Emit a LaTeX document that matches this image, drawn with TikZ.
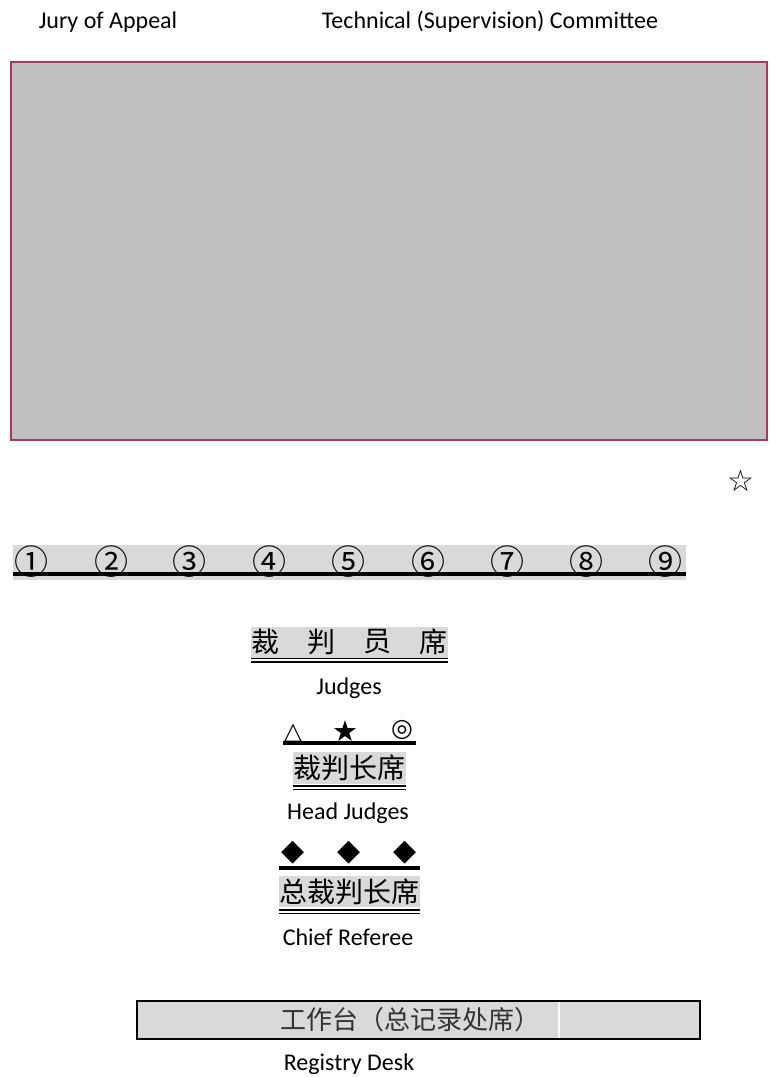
\documentclass[tikz,border=0pt]{standalone}
\usepackage{fontspec}
\setmainfont{Carlito}
\newfontfamily\cjk{Noto Sans CJK SC}
\newfontfamily\sym{DejaVu Sans}
\definecolor{band}{RGB}{217,217,217}
\definecolor{stage}{RGB}{192,192,192}
\definecolor{rim}{RGB}{165,55,105}
\begin{document}
\begin{tikzpicture}[x=1pt,y=-1pt,
  lbl/.style={font=\fontsize{24}{26}\selectfont, inner sep=0pt, anchor=center},
  num/.style={font=\cjk\fontsize{34}{36}\selectfont, inner sep=0pt, anchor=center},
  han/.style={font=\cjk\fontsize{28}{30}\selectfont, inner sep=0pt, anchor=center},
  glyph/.style={font=\sym\fontsize{30}{32}\selectfont, inner sep=0pt, anchor=center},
  bar/.style={line width=3.2pt, line cap=butt},
  dbl/.style={line width=1.1pt}]
\useasboundingbox (0,0) rectangle (769,1077);
% headings
\node[lbl] (jury) at (108,22) {Jury of Appeal};
\node[lbl] (tech) at (490,22) {Technical (Supervision) Committee};
% stage
\draw[rim, line width=2pt, fill=stage] (11,62) rectangle (767,440);
\node[glyph] (star) at (741,481) {☆};
% numbered seats
\fill[band] (13,545) rectangle (686,580);
\draw[bar] (13,574) -- (686,574);
\foreach \n/\x in {1/31,2/111,3/189,4/269,5/348,6/428,7/507,8/586,9/665}{
  \node[num] (s\n) at (\x,562) {\ifcase\n\or ①\or ②\or ③\or ④\or ⑤\or ⑥\or ⑦\or ⑧\or ⑨\fi};
}
% judges
\fill[band] (251,627) rectangle (448,658);
\draw[dbl] (251,658.5) -- (448,658.5);
\draw[dbl] (251,662) -- (448,662);
\node[han] (j1) at (265,642) {裁};
\node[han] (j2) at (321,642) {判};
\node[han] (j3) at (377,642) {员};
\node[han] (j4) at (433,642) {席};
\node[lbl] (judges) at (349,688) {Judges};
% head judges
\node[font=\sym\bfseries\fontsize{24}{26}\selectfont, inner sep=0pt] (tri) at (293,733) {△};
\node[font=\sym\fontsize{29}{30}\selectfont, inner sep=0pt] (bstar) at (345,731) {★};
\node[font=\sym\fontsize{25}{26}\selectfont, inner sep=0pt] (circ) at (402,730) {◎};
\draw[bar] (283,743) -- (416,743);
\fill[band] (293,752) rectangle (406,784);
\draw[dbl] (293,786) -- (406,786);
\draw[dbl] (293,789.5) -- (406,789.5);
\node[han] (hj) at (349.5,768) {裁判长席};
\node[lbl] (headj) at (348,813) {Head Judges};
% chief referee
\node[glyph] (d1) at (293,853) {◆};
\node[glyph] (d2) at (349,853) {◆};
\node[glyph] (d3) at (405,853) {◆};
\draw[bar] (279,868) -- (420,868);
\fill[band] (279,876) rectangle (420,907);
\draw[dbl] (279,910) -- (420,910);
\draw[dbl] (279,913.5) -- (420,913.5);
\node[han] (cr) at (349.5,892) {总裁判长席};
\node[lbl] (chief) at (348,937) {Chief Referee};
% registry desk
\draw[line width=2pt, fill=band] (137,1001) rectangle (700,1038.5);
\draw[white, line width=1.5pt] (559,1002) -- (559,1037.5);
\node[font=\cjk\fontsize{26}{28}\selectfont, text=black!80, inner sep=0pt] (desk) at (410,1020) {工作台（总记录处席）};
\node[lbl] (reg) at (349,1064) {Registry Desk};
\end{tikzpicture}
\end{document}
